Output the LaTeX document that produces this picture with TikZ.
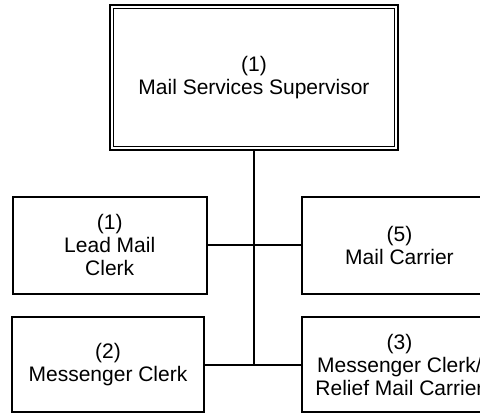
\documentclass[tikz,border=0pt]{standalone}
\usepackage{fontspec}
\setmainfont{Liberation Sans}
\begin{document}
\begin{tikzpicture}[x=1pt,y=1pt,
    post/.style={draw,line width=2pt,inner sep=0pt,align=center,
      font=\fontsize{21}{23}\selectfont},
    link/.style={line width=2pt}]
  \clip (0,0) rectangle (480,414);
  % supervisor, double frame
  \node[post,minimum width=288pt,minimum height=145pt] (sup) at (254,336.5) {(1)\\Mail Services Supervisor};
  \draw[line width=1.2pt] ([shift={(4.5,-4.5)}]sup.north west) rectangle ([shift={(-4.5,4.5)}]sup.south east);
  % staff
  \node[post,minimum width=193.5pt,minimum height=97pt] (lead) at (109.75,168.5) {(1)\\Lead Mail\\Clerk};
  \node[post,minimum width=195pt,minimum height=97pt] (carrier) at (399.5,168.5) {(5)\\Mail Carrier};
  \node[post,minimum width=192pt,minimum height=95.5pt] (messenger) at (108,49.25) {(2)\\Messenger Clerk};
  \node[post,minimum width=195pt,minimum height=95.5pt] (relief) at (399.5,49.25) {(3)\\Messenger Clerk/\\Relief Mail Carrier};
  % lines
  \coordinate (hub) at (sup.south |- messenger.east);
  \draw[link] (sup.south) -- (hub);
  \draw[link] (lead.east) -- (carrier.west);
  \draw[link] (messenger.east) -- (relief.west);
\end{tikzpicture}
\end{document}
